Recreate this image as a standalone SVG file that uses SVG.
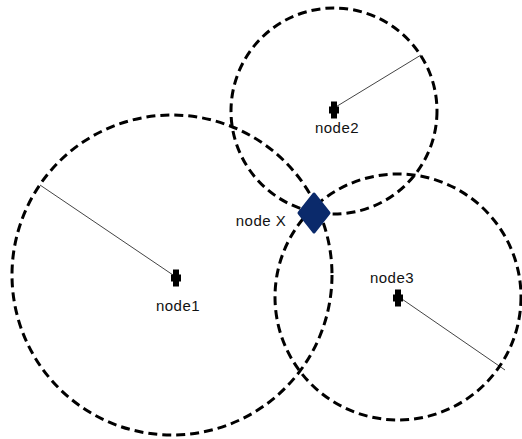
<svg xmlns="http://www.w3.org/2000/svg" xmlns:xlink="http://www.w3.org/1999/xlink" width="522" height="439" viewBox="0 0 522 439">
<style>
.range{fill:none;stroke:#000;stroke-width:3;stroke-dasharray:9 5}
.radius{stroke:#444;stroke-width:1;fill:none}
.lbl{font-family:"Liberation Sans",Arial,sans-serif;font-size:15px;letter-spacing:0.5px;fill:#111;text-anchor:middle}
.mk{fill:#000}
</style>
<defs>
<path id="marker" d="M-3,-8.5 H3 V-3.5 H5 V3.5 H3 V8.5 H-3 V3.5 H-5 V-3.5 H-3 Z"/>
</defs>
<rect width="522" height="439" fill="#fff"/>
<g id="connectors">
<line class="radius" x1="176" y1="277" x2="40" y2="185"/>
<line class="radius" x1="334" y1="108" x2="421" y2="55"/>
<line class="radius" x1="399" y1="297" x2="505" y2="370"/>
</g>
<g id="node1">
<circle class="range" cx="172" cy="275" r="160"/>
<use xlink:href="#marker" class="mk" x="176" y="278"/>
<text class="lbl" x="178" y="311">node1</text>
</g>
<g id="node2">
<circle class="range" cx="334" cy="111" r="103"/>
<use xlink:href="#marker" class="mk" x="334" y="110"/>
<text class="lbl" x="337" y="133">node2</text>
</g>
<g id="node3">
<circle class="range" cx="398" cy="297" r="123"/>
<use xlink:href="#marker" class="mk" x="398" y="298"/>
<text class="lbl" x="392" y="283">node3</text>
</g>
<g id="nodeX">
<path d="M314,194 L329,213 L314,232 L299,213 Z" fill="#0b2a6b" stroke="#0b2a6b" stroke-width="3" stroke-linejoin="round"/>
<text class="lbl" x="261" y="226">node X</text>
</g>
</svg>
